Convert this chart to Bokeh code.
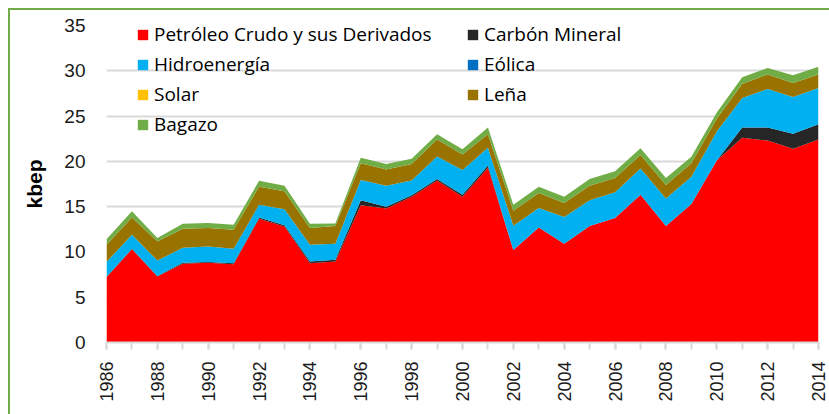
import math
from bokeh.plotting import figure
from bokeh.layouts import column, row
from bokeh.models import ColumnDataSource, Legend, LegendItem, SingleIntervalTicker, Range1d, Div
from bokeh.embed import file_html
from bokeh.resources import INLINE

years = [1986, 1987, 1988, 1989, 1990, 1991, 1992, 1993, 1994, 1995,
         1996, 1997, 1998, 1999, 2000, 2001, 2002, 2003, 2004, 2005,
         2006, 2007, 2008, 2009, 2010, 2011, 2012, 2013, 2014]

petroleo = [7.2, 10.3, 7.3, 8.7, 8.8, 8.65, 13.65, 12.8, 8.75, 8.95,
            15.15, 14.8, 16.1, 17.9, 16.1, 19.3, 10.2, 12.7, 10.9, 12.85,
            13.75, 16.3, 12.85, 15.3, 20.1, 22.6, 22.3, 21.4, 22.4]
carbon = [0.05, 0.05, 0.05, 0.1, 0.1, 0.1, 0.15, 0.15, 0.2, 0.2,
          0.55, 0.2, 0.15, 0.15, 0.2, 0.25, 0.0, 0.0, 0.0, 0.0,
          0.0, 0.0, 0.0, 0.0, 0.0, 1.15, 1.45, 1.65, 1.7]
hidro = [1.65, 1.55, 1.7, 1.65, 1.7, 1.6, 1.4, 1.75, 1.85, 1.75,
         2.25, 2.3, 1.65, 2.5, 2.75, 1.95, 2.7, 2.15, 2.95, 2.85,
         2.85, 2.9, 3.05, 3.0, 3.2, 3.25, 4.25, 4.05, 4.0]
eolica = [0.0, 0.0, 0.0, 0.0, 0.0, 0.0, 0.0, 0.0, 0.0, 0.0,
          0.0, 0.0, 0.0, 0.0, 0.0, 0.0, 0.0, 0.0, 0.0, 0.0,
          0.0, 0.0, 0.0, 0.0, 0.0, 0.0, 0.0, 0.0, 0.0]
solar = [0.0, 0.0, 0.0, 0.0, 0.0, 0.0, 0.0, 0.0, 0.0, 0.0,
         0.0, 0.0, 0.0, 0.0, 0.0, 0.0, 0.0, 0.0, 0.0, 0.0,
         0.0, 0.0, 0.0, 0.0, 0.0, 0.0, 0.0, 0.0, 0.0]
lena = [1.9, 1.9, 2.1, 2.1, 2.05, 2.1, 2.0, 2.0, 1.85, 1.95,
        1.85, 1.8, 1.8, 1.85, 1.7, 1.5, 1.65, 1.65, 1.55, 1.6,
        1.55, 1.5, 1.5, 1.5, 1.4, 1.55, 1.6, 1.55, 1.5]
bagazo = [0.6, 0.7, 0.4, 0.55, 0.55, 0.55, 0.65, 0.6, 0.45, 0.3,
          0.6, 0.6, 0.6, 0.6, 0.6, 0.75, 0.65, 0.7, 0.7, 0.75,
          0.75, 0.75, 0.75, 0.7, 0.7, 0.75, 0.7, 0.85, 0.85]

series_keys = ["petroleo", "carbon", "hidro", "eolica", "solar", "lena", "bagazo"]
series_labels = ["Petróleo Crudo y sus Derivados", "Carbón Mineral", "Hidroenergía",
                 "Eólica", "Solar", "Leña", "Bagazo"]
series_colors = ["#FF0000", "#262626", "#00B0F0", "#0070C0", "#FFC000", "#997300", "#70AD47"]

source = ColumnDataSource(dict(year=years, petroleo=petroleo, carbon=carbon, hidro=hidro,
                               eolica=eolica, solar=solar, lena=lena, bagazo=bagazo))

FONT = "Liberation Sans"
LEGEND_FONT = "Open Sans"
BORDER = "#70AD47"

p = figure(width=819, height=404, output_backend="svg", toolbar_location=None,
           x_range=Range1d(1986, 2014), y_range=Range1d(0, 35),
           min_border_left=96, min_border_right=11, min_border_top=15, min_border_bottom=72)
p.outline_line_color = None
p.margin = 0

renderers = p.varea_stack(stackers=series_keys, x="year", color=series_colors, source=source)

# axes
p.xaxis.ticker = SingleIntervalTicker(interval=2, num_minor_ticks=2)
p.xaxis.axis_line_color = "#D9D9D9"
p.xaxis.axis_line_width = 2
p.xaxis.major_tick_line_color = "#D9D9D9"
p.xaxis.major_tick_line_width = 2
p.xaxis.minor_tick_line_color = "#D9D9D9"
p.xaxis.minor_tick_line_width = 2
p.xaxis.major_tick_in = 0
p.xaxis.major_tick_out = 7
p.xaxis.minor_tick_in = 0
p.xaxis.minor_tick_out = 7
p.xaxis.major_label_orientation = math.pi / 2
p.xaxis.major_label_text_font = FONT
p.xaxis.major_label_text_font_size = "18px"
p.xaxis.major_label_text_color = "#1a1a1a"
p.xaxis.major_label_standoff = 12

p.yaxis.ticker = SingleIntervalTicker(interval=5, num_minor_ticks=0)
p.yaxis.axis_line_color = None
p.yaxis.major_tick_line_color = None
p.yaxis.minor_tick_line_color = None
p.yaxis.major_tick_in = 0
p.yaxis.major_tick_out = 0
p.yaxis.minor_tick_in = 0
p.yaxis.minor_tick_out = 0
p.yaxis.major_label_text_font = FONT
p.yaxis.major_label_text_font_size = "19px"
p.yaxis.major_label_text_color = "#1a1a1a"
p.yaxis.major_label_standoff = 21
p.yaxis.axis_label = "kbep"
p.yaxis.axis_label_text_font = FONT
p.yaxis.axis_label_text_font_style = "bold"
p.yaxis.axis_label_text_font_size = "21px"
p.yaxis.axis_label_text_color = "#000000"
p.yaxis.axis_label_standoff = 15

p.xgrid.grid_line_color = None
p.ygrid.grid_line_color = "#D9D9D9"
p.ygrid.grid_line_width = 2


def make_legend(idx, loc):
    items = [LegendItem(label=series_labels[i], renderers=[renderers[i]]) for i in idx]
    lg = Legend(items=items, location=loc, orientation="vertical")
    lg.padding = 0
    lg.margin = 0
    lg.spacing = 4
    lg.glyph_width = 13
    lg.glyph_height = 13
    lg.label_height = 20
    lg.label_standoff = 5
    lg.label_text_font = LEGEND_FONT
    lg.label_text_font_size = "19px"
    lg.label_text_color = "#000000"
    lg.border_line_color = None
    lg.background_fill_alpha = 0
    return lg


p.add_layout(make_legend([0, 2, 4, 6], (30, 205)), "center")
p.add_layout(make_legend([1, 3, 5], (360, 235)), "center")

top_bar = Div(text="", width=821, height=2, margin=0, styles={"background-color": BORDER})
left_bar = Div(text="", width=2, height=404, margin=0, styles={"background-color": BORDER})
body = row(left_bar, p, spacing=0)
body.margin = 0
layout = column(top_bar, body, spacing=0)
layout.margin = (8, 0, 0, 8)

open("out.html", "w").write(file_html(layout, INLINE))
